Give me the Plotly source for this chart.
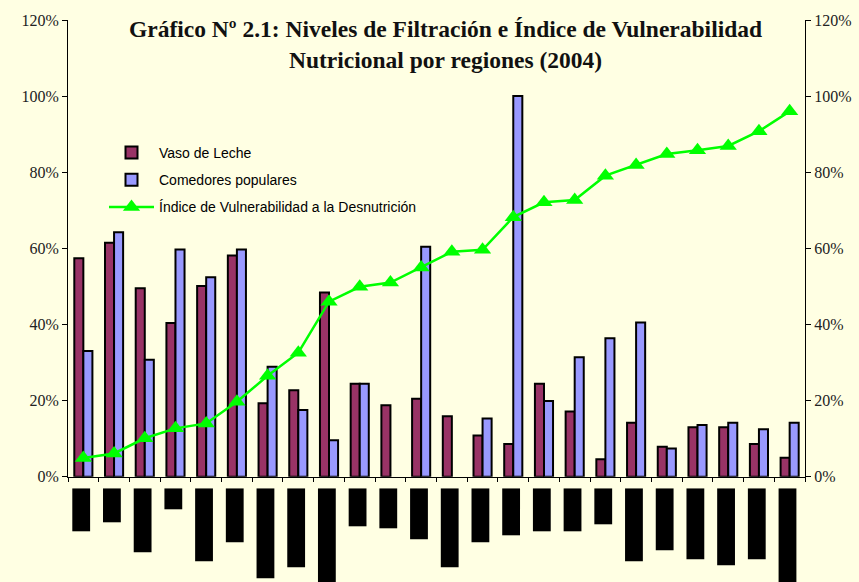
import plotly.graph_objects as go

regions = [f"Región {i}" for i in range(1, 25)]
vaso_de_leche = [57.4, 61.5, 49.5, 40.4, 50.1, 58.1, 19.3, 22.7, 48.4, 24.4, 18.8, 20.5,
                 15.9, 10.8, 8.6, 24.4, 17.1, 4.6, 14.2, 7.9, 13.0, 13.0, 8.6, 5.0]
comedores = [33.0, 64.2, 30.7, 59.7, 52.4, 59.7, 28.9, 17.5, 9.6, 24.4, None, 60.4,
             None, 15.3, 100.0, 19.9, 31.4, 36.4, 40.5, 7.4, 13.6, 14.2, 12.5, 14.2]
indice = [4.9, 6.1, 10.1, 12.7, 14.0, 19.7, 26.5, 32.6, 46.0, 49.9, 51.0, 55.0,
          59.1, 59.6, 68.2, 72.1, 72.7, 79.1, 81.9, 84.8, 85.8, 86.9, 90.8, 96.0]
# lengths of the (obscured) region name labels under the axis
label_blocks = [43, 34, 64, 21, 73, 54, 90, 79, 100, 38, 40, 51,
                79, 54, 47, 43, 43, 36, 73, 62, 71, 77, 71, 100]
y_ticks = [0, 20, 40, 60, 80, 100, 120]
y_tick_text = ["0%", "20%", "40%", "60%", "80%", "100%", "120%"]

W, H = 859, 582
L, R = 68, 805
bg = "#FFFFE3"
serif = "Liberation Serif"
sans = "Liberation Sans"

def px_x(p):
    return (p - L) / (R - L)

def py(p):
    return 1 - p / H

fig = go.Figure()
fig.add_trace(go.Bar(x=regions, y=vaso_de_leche, name="Vaso de Leche", legendgroup="a",
                     marker=dict(color="#993366", line=dict(color="black", width=2))))
fig.add_trace(go.Bar(x=regions, y=comedores, name="Comedores populares", legendgroup="b",
                     marker=dict(color="#9999FF", line=dict(color="black", width=2))))
fig.add_trace(go.Scatter(x=regions, y=indice, name="Índice de Vulnerabilidad a la Desnutrición",
                         legendgroup="c", mode="lines+markers", yaxis="y2",
                         line=dict(color="#00FF00", width=2.5),
                         marker=dict(symbol="triangle-up", size=15, color="#00FF00")))
fig.add_trace(go.Bar(x=regions, y=[-v for v in label_blocks], xaxis="x2", yaxis="y3",
                     showlegend=False, width=0.58, offset=-0.36,
                     marker=dict(color="black", line=dict(width=0)), hoverinfo="skip"))

main_dom = [py(476.7), py(20)]
tickfont = dict(family=serif, size=16, color="#222")
fig.update_layout(
    width=W, height=H,
    paper_bgcolor=bg, plot_bgcolor=bg,
    margin=dict(l=L, r=W - R, t=0, b=0, autoexpand=False),
    barmode="group", bargap=0.41, bargroupgap=0,
    showlegend=True,
    legend=dict(x=px_x(104), y=py(137), xanchor="left", yanchor="top",
                bgcolor="rgba(0,0,0,0)", font=dict(family=sans, size=14, color="black"),
                traceorder="grouped", tracegroupgap=6, itemwidth=45),
    xaxis=dict(domain=[0, 1], anchor="y", showticklabels=False, showline=True,
               linecolor="black", linewidth=1, ticks="outside", ticklen=4,
               tickson="boundaries", tickcolor="black", showgrid=False, zeroline=False,
               range=[-0.5, 23.5], automargin=False),
    xaxis2=dict(domain=[0, 1], anchor="y3", matches="x", showticklabels=False,
                showline=False, showgrid=False, zeroline=False, ticks="", automargin=False),
    yaxis=dict(domain=main_dom, range=[0, 120], tickvals=y_ticks, ticktext=y_tick_text,
               showline=True, linecolor="black", linewidth=1, ticks="outside",
               ticklen=5, tickcolor="black", showgrid=False, zeroline=False,
               tickfont=tickfont, automargin=False),
    yaxis2=dict(overlaying="y", side="right", range=[0, 120], tickvals=y_ticks,
                ticktext=y_tick_text, showline=True, linecolor="black", linewidth=1,
                ticks="outside", ticklen=5, tickcolor="black", showgrid=False,
                zeroline=False, tickfont=tickfont, automargin=False),
    yaxis3=dict(domain=[0, py(488.3)], range=[-93.7, 0], visible=False, anchor="x2",
                automargin=False),
    annotations=[dict(text="<b>Gráfico Nº 2.1: Niveles de Filtración e Índice de Vulnerabilidad</b><br>"
                           "<b>Nutricional por regiones (2004)</b>",
                      x=px_x(445), y=py(14), xref="paper", yref="paper",
                      xanchor="center", yanchor="top", showarrow=False,
                      font=dict(family=serif, size=23.5, color="#111"), align="center")],
)
fig.write_html("out.html", config={"displayModeBar": False},
               post_script="document.body.style.margin='0';"
                           "document.body.style.background='" + bg + "';")
